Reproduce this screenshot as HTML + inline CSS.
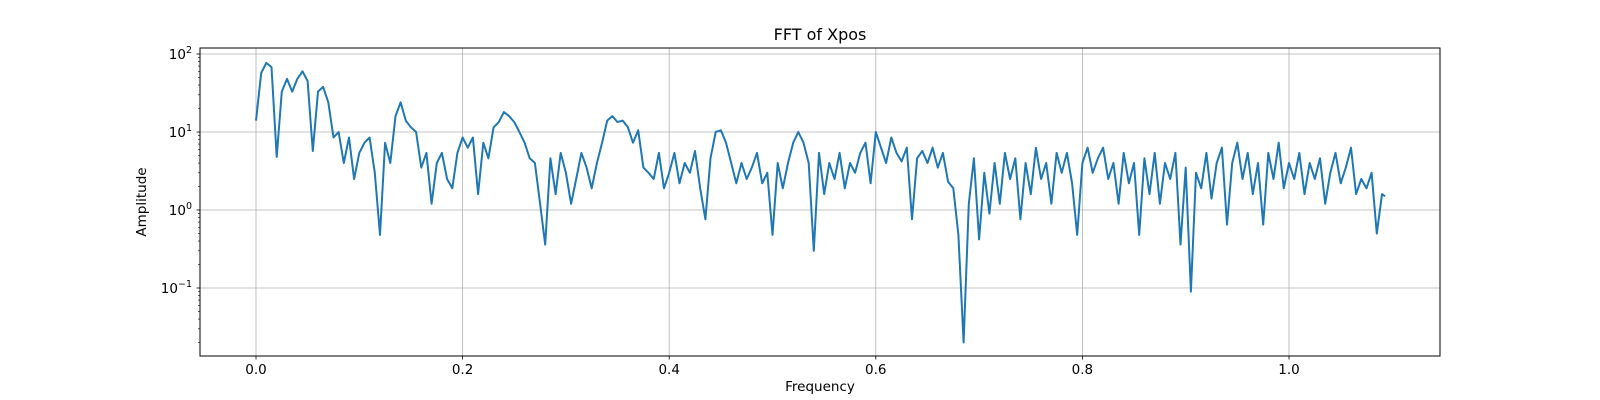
<!DOCTYPE html>
<html><head><meta charset="utf-8"><style>
body{margin:0;background:#fff}
svg{display:block;font-family:"DejaVu Sans","Liberation Sans",sans-serif}
</style></head><body>
<svg id="chart" width="1600" height="400" xmlns="http://www.w3.org/2000/svg">
<rect width="1600" height="400" fill="#fff"/>
<g id="grid"></g>
<g id="series"></g>
<rect x="200" y="48" width="1240" height="308" fill="none" stroke="#000" stroke-width="1"/>
<g id="ticks"></g>
<text x="820" y="40" font-size="16" text-anchor="middle">FFT of Xpos</text>
<text x="820" y="391" font-size="13.5" text-anchor="middle">Frequency</text>
<text x="0" y="0" font-size="13.5" text-anchor="middle" transform="translate(146,202) rotate(-90)">Amplitude</text>
</svg>
<script>
const freqStep = 0.005;
const amplitudes = [14,57,77,68,4.8,33,48,33,48,60,45,5.7,33,38,24,8.5,10,4,8.5,2.5,5.4,7.3,8.5,3,0.48,7.3,4,16,24,14,11.5,10,3.5,5.4,1.2,4,5.4,2.5,1.9,5.4,8.5,6.3,8.5,1.6,7.3,4.6,11.5,13.4,18,16,13.4,10,7.3,4.6,4,1.2,0.36,4.6,1.6,5.4,3,1.2,2.5,5.4,3.5,1.9,4,7.3,14,16,13.4,14,11.5,7.3,10.5,3.5,3,2.5,5.4,1.9,3,5.4,2.2,4,3,5.7,1.9,0.76,4.6,10,10.5,7.3,4,2.2,4,2.5,3.5,5.4,2.2,3,0.48,4,1.9,4,7.3,10,7.3,4,0.3,5.4,1.6,4,2.5,5.4,1.9,4,3,5.4,7.3,2.2,10,6.3,4,8.5,5.4,4.2,6.3,0.76,4.6,5.7,4,6.3,3.5,5.4,2.3,1.9,0.48,0.02,1.2,4.6,0.42,3,0.9,4,1.2,5.4,2.5,4.6,0.76,4,1.6,6.3,2.5,4,1.2,5.4,3,5.4,2.2,0.48,4,6.3,3,4.6,6.3,2.5,4,1.2,5.4,2.2,4,0.48,4.6,1.6,5.4,1.2,4,2.5,5.4,0.36,3.5,0.09,3,1.9,5.4,1.4,4,6.3,0.65,4,7.3,2.5,5.4,1.6,4,0.65,5.4,2.5,7.3,1.9,4,2.5,5.4,1.6,4,2.5,4.6,1.2,3,5.4,2.2,3.5,6.3,1.6,2.5,1.9,3,0.5,1.6,1.5];
const xTicks = [0,0.2,0.4,0.6,0.8,1.0];
const xTickLabels = ["0.0","0.2","0.4","0.6","0.8","1.0"];
const yTickExps = [-1,0,1,2];

const NS="http://www.w3.org/2000/svg";
const L=200,R=1440,T=48,B=356;
const x0=256,xPer=1033;
const yAt0=210,yDec=78;
function xs(f){return x0+f*xPer;}
function ys(v){return yAt0-Math.log10(v)*yDec;}
function mk(tag,attrs,parent){const e=document.createElementNS(NS,tag);for(const k in attrs)e.setAttribute(k,attrs[k]);parent.appendChild(e);return e;}
const grid=document.getElementById('grid'),ticks=document.getElementById('ticks'),series=document.getElementById('series');

xTicks.forEach((f,i)=>{
  const x=xs(f);
  const g=mk('line',{x1:x,x2:x,y1:T,y2:B,stroke:'#b0b0b0','stroke-width':0.8},grid);
  
  
  const t=mk('line',{x1:x,x2:x,y1:B,y2:B+3.5,stroke:'#000','stroke-width':0.8},ticks);
  
  
  const lb=mk('text',{x:x,y:B+18,'font-size':13.5,'text-anchor':'middle'},ticks);
  lb.textContent=xTickLabels[i];
  
  
});
yTickExps.forEach(e=>{
  const y=ys(Math.pow(10,e));
  const g=mk('line',{x1:L,x2:R,y1:y,y2:y,stroke:'#b0b0b0','stroke-width':0.8},grid);
  
  
  const t=mk('line',{x1:L-3.5,x2:L,y1:y,y2:y,stroke:'#000','stroke-width':0.8},ticks);
  
  
  const lb=mk('text',{x:L-8,y:y+5,'font-size':13.5,'text-anchor':'end'},ticks);
  
  
  const a=mk('tspan',{},lb);a.textContent='10';
  const s=mk('tspan',{dy:-6,'font-size':9.5},lb);s.textContent=(e<0?'\u2212':'')+Math.abs(e);
});
for(let e=-2;e<=2;e++){for(let m=2;m<=9;m++){
  const y=ys(m*Math.pow(10,e));
  if(y<T||y>B)continue;
  const t=mk('line',{x1:L-2,x2:L,y1:y,y2:y,stroke:'#000','stroke-width':0.6},ticks);
  
  
}}
const pts=amplitudes.map((v,i)=>xs(Math.min(i*freqStep,1.093)).toFixed(1)+','+ys(v).toFixed(1)).join(' ');
const pl=mk('polyline',{points:pts,fill:'none',stroke:'#1f77b4','stroke-width':2,'stroke-linejoin':'round'},series);


</script>
</body></html>
